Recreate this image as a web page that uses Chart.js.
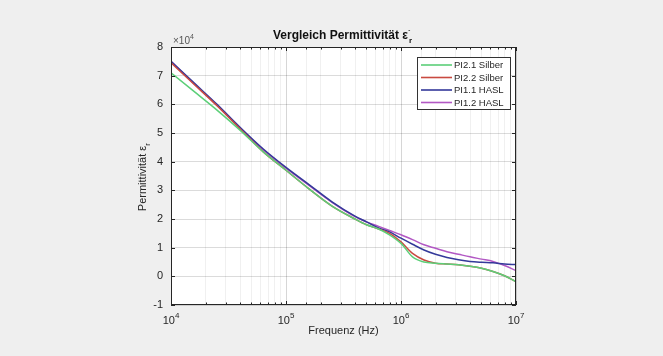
<!DOCTYPE html>
<html>
<head>
<meta charset="utf-8">
<script src="https://cdn.jsdelivr.net/npm/chart.js@4"></script>
<style>
  html, body { margin: 0; padding: 0; background: #efefef; }
  #wrap { width: 663px; height: 356px; }
</style>
</head>
<body>
<div id="wrap"><canvas id="permChart" width="663" height="356"></canvas></div>
<script>
// Frequenzpunkte (Hz)
const freq = [10000, 15849, 25119, 39811, 63096, 100000, 158489, 251189, 398107, 501187,
              630957, 794328, 1000000, 1258925, 1584893, 1995262, 2511886, 3162278,
              3981072, 5011872, 6309573, 7943282, 10000000];

// Permittivität in Einheiten von 10^4
const pi21Silber = [7.1, 6.45, 5.8, 5.1, 4.35, 3.7, 3.05, 2.45, 2.0, 1.8, 1.66, 1.45, 1.15,
                    0.68, 0.5, 0.46, 0.43, 0.4, 0.35, 0.28, 0.17, 0.02, -0.19];
const pi22Silber = [7.45, 6.7, 5.95, 5.15, 4.35, 3.7, 3.05, 2.45, 2.0, 1.8, 1.66, 1.5, 1.2,
                    0.8, 0.57, 0.46, 0.43, 0.4, 0.35, 0.28, 0.17, 0.02, -0.19];
const pi11HASL = [7.5, 6.75, 6.0, 5.2, 4.45, 3.8, 3.2, 2.6, 2.1, 1.9, 1.7, 1.55, 1.33,
                  1.12, 0.92, 0.77, 0.66, 0.58, 0.52, 0.49, 0.47, 0.43, 0.41];
const pi12HASL = [7.5, 6.72, 5.97, 5.17, 4.42, 3.77, 3.17, 2.58, 2.08, 1.9, 1.75, 1.6, 1.45,
                  1.28, 1.1, 0.98, 0.86, 0.77, 0.68, 0.6, 0.52, 0.38, 0.2];

const seriesNames = ['PI2.1 Silber', 'PI2.2 Silber', 'PI1.1 HASL', 'PI1.2 HASL'];
const seriesColors = ['#5ccf78', '#c94a40', '#34399a', '#b258c4'];
const yTicks = [-1, 0, 1, 2, 3, 4, 5, 6, 7, 8];
const xDekaden = [4, 5, 6, 7];

const textColor = '#262626';
const schrift = '"Liberation Sans", Arial, sans-serif';

function punkte(werte) {
    return freq.map((f, i) => ({ x: f, y: werte[i] }));
}

function istDekade(v) {
    const e = Math.log10(v);
    return Math.abs(e - Math.round(e)) < 1e-6;
}

// Titel, Achsentitel, Legende, Box und innenliegende Ticks (MATLAB-Stil)
const matlabDeko = {
    id: 'matlabDeko',
    beforeDraw(chart) {
        const { ctx, chartArea: a } = chart;
        ctx.save();
        ctx.fillStyle = '#ffffff';
        ctx.fillRect(a.left, a.top, a.right - a.left, a.bottom - a.top);
        ctx.restore();
    },
    afterDraw(chart) {
        const { ctx, chartArea: a, scales } = chart;
        const cx = (a.left + a.right) / 2;
        ctx.save();

        // Box
        ctx.strokeStyle = textColor;
        ctx.lineWidth = 1;
        ctx.strokeRect(a.left + 0.5, a.top + 0.5, a.right - a.left - 1, a.bottom - a.top - 1);

        // Ticks innen
        ctx.beginPath();
        scales.x.ticks.forEach(t => {
            const px = Math.round(scales.x.getPixelForValue(t.value)) + 0.5;
            const len = istDekade(t.value) ? 4 : 2.5;
            ctx.moveTo(px, a.bottom); ctx.lineTo(px, a.bottom - len);
            ctx.moveTo(px, a.top); ctx.lineTo(px, a.top + len);
        });
        yTicks.forEach(v => {
            const py = Math.round(scales.y.getPixelForValue(v)) + 0.5;
            ctx.moveTo(a.left, py); ctx.lineTo(a.left + 4, py);
            ctx.moveTo(a.right, py); ctx.lineTo(a.right - 4, py);
        });
        ctx.stroke();

        // x-Tickbeschriftung 10^n
        ctx.fillStyle = textColor;
        ctx.textBaseline = 'alphabetic';
        xDekaden.forEach(e => {
            const px = scales.x.getPixelForValue(Math.pow(10, e));
            ctx.font = '11px ' + schrift;
            const wb = ctx.measureText('10').width;
            ctx.font = '8px ' + schrift;
            const we = ctx.measureText(String(e)).width;
            const x0 = px - (wb + we) / 2;
            ctx.font = '11px ' + schrift;
            ctx.textAlign = 'left';
            ctx.fillText('10', x0, a.bottom + 19);
            ctx.font = '8px ' + schrift;
            ctx.fillText(String(e), x0 + wb, a.bottom + 13);
        });

        // Titel
        ctx.fillStyle = '#111111';
        ctx.font = 'bold 12px ' + schrift;
        const t1 = 'Vergleich Permittivität ε';
        const w1 = ctx.measureText(t1).width;
        const x0 = cx - (w1 + 6) / 2;
        ctx.textAlign = 'left';
        ctx.fillText(t1, x0, 39);
        ctx.font = 'bold 8px ' + schrift;
        ctx.fillText('`', x0 + w1, 35);
        ctx.fillText('r', x0 + w1 + 1, 43);

        // x10^4
        ctx.fillStyle = '#555555';
        ctx.font = '10px ' + schrift;
        ctx.fillText('×10', a.left + 2, a.top - 3);
        const wx = ctx.measureText('×10').width;
        ctx.font = '7px ' + schrift;
        ctx.fillText('4', a.left + 2 + wx, a.top - 8);

        // x-Achsentitel
        ctx.fillStyle = textColor;
        ctx.font = '11px ' + schrift;
        ctx.textAlign = 'center';
        ctx.fillText('Frequenz (Hz)', cx, 334);

        // y-Achsentitel
        ctx.save();
        ctx.translate(146, (a.top + a.bottom) / 2);
        ctx.rotate(-Math.PI / 2);
        const t2 = 'Permittivität ε';
        ctx.font = '11px ' + schrift;
        const w2 = ctx.measureText(t2).width;
        ctx.textAlign = 'left';
        ctx.fillText(t2, -(w2 + 5) / 2, 0);
        ctx.font = '8px ' + schrift;
        ctx.fillText('r', -(w2 + 5) / 2 + w2, 4);
        ctx.restore();

        // Legende
        const lx = 417, ly = 57, lw = 93, lh = 52;
        ctx.fillStyle = '#ffffff';
        ctx.fillRect(lx, ly, lw, lh);
        ctx.strokeStyle = '#333333';
        ctx.lineWidth = 1;
        ctx.strokeRect(lx + 0.5, ly + 0.5, lw, lh);
        ctx.font = '9.5px ' + schrift;
        ctx.textBaseline = 'middle';
        ctx.textAlign = 'left';
        chart.data.datasets.forEach((ds, i) => {
            const y = ly + 8 + i * 12.5;
            ctx.strokeStyle = ds.borderColor;
            ctx.lineWidth = 1.6;
            ctx.beginPath();
            ctx.moveTo(lx + 4, y); ctx.lineTo(lx + 35, y);
            ctx.stroke();
            ctx.fillStyle = textColor;
            ctx.fillText(ds.label, lx + 37, y + 0.5);
        });
        ctx.restore();
    }
};

const ctx = document.getElementById('permChart').getContext('2d');
const werteListe = [pi21Silber, pi22Silber, pi11HASL, pi12HASL];

new Chart(ctx, {
    type: 'line',
    data: {
        datasets: werteListe.map((w, i) => ({
            label: seriesNames[i],
            data: punkte(w),
            borderColor: seriesColors[i],
            backgroundColor: seriesColors[i],
            borderWidth: 1.5,
            pointRadius: 0,
            fill: false,
            cubicInterpolationMode: 'monotone'
        }))
    },
    options: {
        responsive: false,
        animation: false,
        layout: { padding: { left: 141, right: 147, top: 47, bottom: 6 } },
        plugins: {
            legend: { display: false },
            title: { display: false },
            tooltip: { enabled: false }
        },
        scales: {
            x: {
                type: 'logarithmic',
                min: 10000,
                max: 10000000,
                afterFit: s => { s.height = 45; },
                border: { display: false },
                grid: {
                    drawTicks: false,
                    color: c => {
                        const v = c.tick ? c.tick.value : 1;
                        return istDekade(v) ? 'rgba(0,0,0,0.16)' : 'rgba(0,0,0,0.06)';
                    }
                },
                ticks: {
                    autoSkip: false,
                    maxRotation: 0,
                    color: 'rgba(0,0,0,0)',
                    callback: () => ''
                }
            },
            y: {
                min: -1,
                max: 8,
                afterFit: s => { s.width = 30; },
                afterBuildTicks: s => { s.ticks = yTicks.map(v => ({ value: v })); },
                border: { display: false },
                grid: { drawTicks: false, color: 'rgba(0,0,0,0.14)' },
                ticks: {
                    padding: 8,
                    color: textColor,
                    font: { family: schrift, size: 11 },
                    callback: v => String(v)
                }
            }
        }
    },
    plugins: [matlabDeko]
});
</script>
</body>
</html>
